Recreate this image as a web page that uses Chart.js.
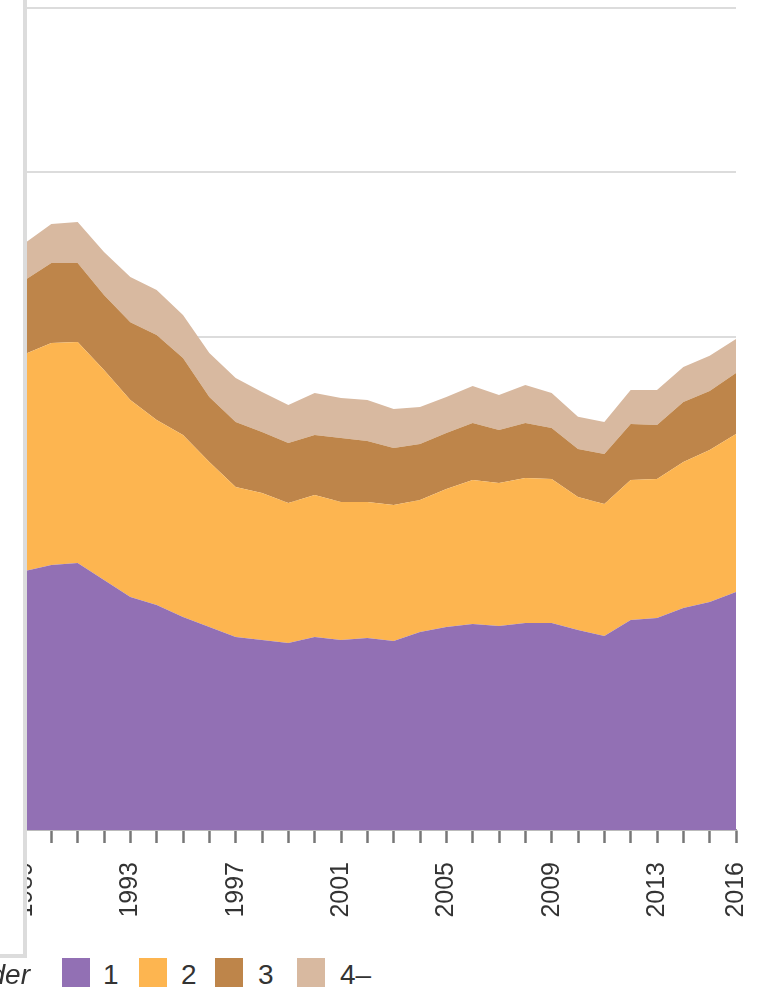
<!DOCTYPE html>
<html>
<head>
<meta charset="utf-8">
<script src="https://cdn.jsdelivr.net/npm/chart.js@4.4.1/dist/chart.umd.min.js"></script>
<style>
  html, body { margin: 0; padding: 0; background: #fff; width: 757px; height: 990px; overflow: hidden; position: relative; }
  #wrap { position: absolute; left: -40px; top: 0; width: 825px; height: 950px; }
  #box { position: absolute; left: -20px; top: -20px; width: 43px; height: 974px; background: #fff;
         border-right: 4px solid #dcdcdc; border-bottom: 4px solid #dcdcdc; z-index: 2; }
  .lg { position: absolute; font-family: 'Liberation Sans Narrow', 'Arial Narrow', sans-serif; font-size: 28px;
        line-height: 28px; color: #333; top: 961px; z-index: 3; }
  .sw { position: absolute; top: 958px; width: 28px; height: 29px; z-index: 3; }
  #ltitle { left: -220px; width: 250px; text-align: right; font-style: italic; }
</style>
</head>
<body>
<div id="wrap"><canvas id="births"></canvas></div>
<div id="box"></div>
<div class="lg" id="ltitle">Birth order</div>
<div class="sw" style="left:62px;background:#9270b4"></div><div class="lg" style="left:103px">1</div>
<div class="sw" style="left:139px;background:#fdb550"></div><div class="lg" style="left:181px">2</div>
<div class="sw" style="left:215px;background:#be854a"></div><div class="lg" style="left:258px">3</div>
<div class="sw" style="left:297px;background:#d8b9a0"></div><div class="lg" style="left:340px">4–</div>
<script>
const years = ["1989","1990","1991","1992","1993","1994","1995","1996","1997","1998","1999","2000","2001","2002",
  "2003","2004","2005","2006","2007","2008","2009","2010","2011","2012","2013","2014","2015","2016"];
const shownYears = ["1989","1993","1997","2001","2005","2009","2013","2016"];

const first = [15.75,16.12,16.24,15.21,14.17,13.69,12.96,12.35,11.74,11.56,11.37,11.74,11.56,11.68,
  11.50,12.04,12.35,12.53,12.41,12.59,12.59,12.17,11.80,12.77,12.90,13.50,13.87,14.48];
const second = [13.20,13.50,13.44,12.77,11.98,11.25,11.07,10.04,9.12,8.94,8.52,8.64,8.39,8.27,
  8.27,8.03,8.39,8.76,8.70,8.82,8.76,8.09,8.03,8.52,8.45,8.88,9.25,9.61];
const third = [4.50,4.87,4.81,4.56,4.74,5.17,4.68,3.95,3.95,3.71,3.65,3.65,3.89,3.71,
  3.47,3.41,3.41,3.47,3.22,3.35,3.10,2.92,3.04,3.41,3.28,3.65,3.59,3.71];
const fourthPlus = [2.25,2.37,2.49,2.62,2.74,2.74,2.62,2.68,2.68,2.43,2.31,2.55,2.43,2.49,
  2.37,2.25,2.19,2.25,2.13,2.31,2.13,1.95,1.95,2.07,2.13,2.13,2.13,2.07];

const yMax = 50;
const yStep = 10;

function area(label, data, color, fill) {
  return { label, data, backgroundColor: color, borderWidth: 0, pointRadius: 0, tension: 0, fill };
}

const ctx = document.getElementById("births").getContext("2d");
new Chart(ctx, {
  type: "line",
  data: {
    labels: years,
    datasets: [
      area("1", first, "#9270b4", "origin"),
      area("2", second, "#fdb550", "-1"),
      area("3", third, "#be854a", "-1"),
      area("4–", fourthPlus, "#d8b9a0", "-1")
    ]
  },
  options: {
    responsive: true,
    maintainAspectRatio: false,
    animation: false,
    layout: { padding: { left: 65, right: 40, top: 8, bottom: 0 } },
    plugins: { legend: { display: false }, tooltip: { enabled: false } },
    scales: {
      x: {
        offset: false,
        grid: { drawOnChartArea: false, drawTicks: true, tickLength: 13, tickColor: "#777", tickWidth: 2.5 },
        border: { display: true, color: "#999", width: 1.5 },
        ticks: {
          autoSkip: false, minRotation: 90, maxRotation: 90, padding: 19, color: "#333",
          font: { family: "'Liberation Sans Narrow', 'Arial Narrow', sans-serif", size: 25 },
          callback: function (v) {
            const y = this.getLabelForValue(v);
            return shownYears.includes(y) ? y : "";
          }
        },
        afterFit: s => { s.height = 120; }
      },
      y: {
        stacked: true,
        min: 0,
        max: yMax,
        ticks: { display: false, stepSize: yStep },
        grid: { color: "#dcdcdc", lineWidth: 2, drawTicks: false },
        border: { display: false }
      }
    }
  }
});
</script>
</body>
</html>
